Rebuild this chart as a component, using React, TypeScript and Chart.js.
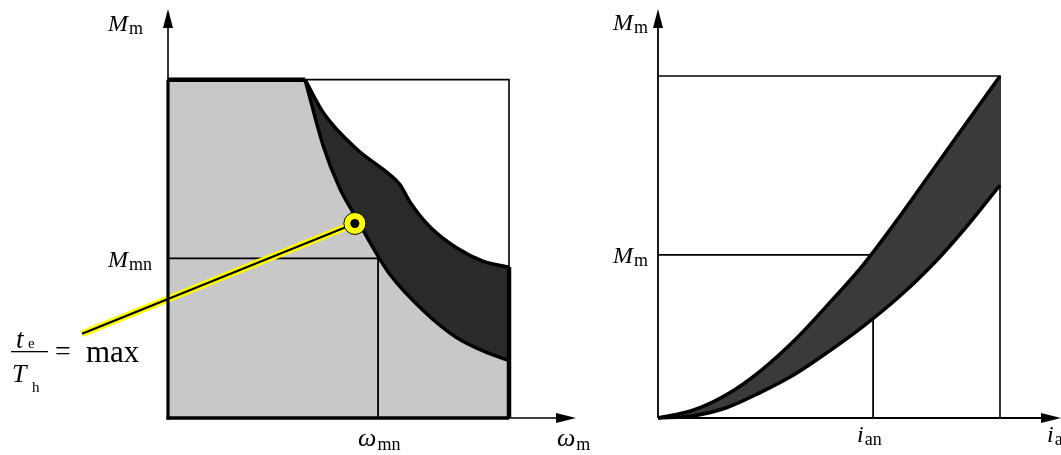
import React, { useEffect, useRef } from "react";
import { Chart, registerables } from "chart.js";
Chart.register(...registerables);

// ---------- Left panel data (normalised ω_m, M_m) ----------
const LEFT_FLAT_X = [0, 0.402];
const LEFT_INNER_X = [0.402, 0.455, 0.504, 0.553, 0.602, 0.651, 0.749, 0.846, 0.944, 1.0];
const LEFT_INNER_Y = [1.0, 0.805, 0.678, 0.59, 0.502, 0.424, 0.317, 0.238, 0.19, 0.17];
const LEFT_OUTER_X = [0.402, 0.455, 0.553, 0.651, 0.68, 0.71, 0.768, 0.846, 0.925, 1.0];
const LEFT_OUTER_Y = [1.0, 0.903, 0.795, 0.719, 0.69, 0.638, 0.565, 0.503, 0.463, 0.446];
const OMEGA_MN = 0.616;
const M_MN = 0.472;
const MARKER = { x: 0.548, y: 0.575 };
const LEADER_END = { x: -0.252, y: 0.249 };

// ---------- Right panel data (normalised i_a, M_m) ----------
const RIGHT_X = [0, 0.1, 0.2, 0.3, 0.4, 0.5, 0.6, 0.7, 0.8, 0.9, 1.0];
const RIGHT_UPPER_Y = [0, 0.022, 0.068, 0.138, 0.228, 0.335, 0.448, 0.58, 0.72, 0.86, 1.0];
const RIGHT_LOWER_Y = [0, 0.006, 0.03, 0.075, 0.128, 0.195, 0.268, 0.35, 0.445, 0.557, 0.681];
const I_AN = 0.629;
const M_M = 0.477;

const pts = (xs: number[], ys: number[]) => xs.map((x, i) => ({ x, y: ys[i] }));

type Geo = { left: number; width: number; height: number; ox: number; oy: number; unit: number; xMax: number; yMax: number };
const LEFT_GEO: Geo = { left: 0, width: 600, height: 455, ox: 168, oy: 418, unit: 341, xMax: 1.2, yMax: 1.2 };
const RIGHT_GEO: Geo = { left: 600, width: 461, height: 455, ox: 58, oy: 418, unit: 342, xMax: (461 - 58) / 342, yMax: 1.2 };

const SERIF = "'Liberation Serif', 'Times New Roman', serif";
const MAIN = `italic 24px ${SERIF}`;
const SUB = `18px ${SERIF}`;
const GRAY = "#c8c8c8";

function txt(ctx: CanvasRenderingContext2D, s: string, x: number, y: number, font: string) {
  ctx.font = font;
  ctx.fillStyle = "#000";
  ctx.textAlign = "left";
  ctx.textBaseline = "alphabetic";
  ctx.fillText(s, x, y);
  return ctx.measureText(s).width;
}
function sub(ctx: CanvasRenderingContext2D, x: number, y: number, m: string, s: string, mf = MAIN, sf = SUB, dy = 3) {
  const w = txt(ctx, m, x, y, mf);
  txt(ctx, s, x + w + 1, y + dy, sf);
}
function line(ctx: CanvasRenderingContext2D, x1: number, y1: number, x2: number, y2: number, w: number) {
  ctx.beginPath();
  ctx.moveTo(x1, y1);
  ctx.lineTo(x2, y2);
  ctx.lineWidth = w;
  ctx.strokeStyle = "#000";
  ctx.stroke();
}
function arrowUp(ctx: CanvasRenderingContext2D, x: number, tip: number) {
  ctx.beginPath();
  ctx.moveTo(x, tip);
  ctx.lineTo(x - 5, tip + 19);
  ctx.lineTo(x + 5, tip + 19);
  ctx.closePath();
  ctx.fillStyle = "#000";
  ctx.fill();
}
function arrowRight(ctx: CanvasRenderingContext2D, tip: number, y: number) {
  ctx.beginPath();
  ctx.moveTo(tip, y);
  ctx.lineTo(tip - 20, y - 5);
  ctx.lineTo(tip - 20, y + 5);
  ctx.closePath();
  ctx.fillStyle = "#000";
  ctx.fill();
}

const lineDs = (data: any[], w: number, extra: any = {}) => ({
  data,
  borderColor: "#000",
  borderWidth: w,
  pointRadius: 0,
  fill: false,
  tension: 0,
  clip: false,
  ...extra,
});

function leftDatasets() {
  // listed bottom -> top
  const ds: any[] = [];
  const outerEnd = LEFT_OUTER_Y[LEFT_OUTER_Y.length - 1];
  ds.push(lineDs([{ x: LEFT_OUTER_X[0], y: 1 }, { x: 1, y: 1 }, { x: 1, y: outerEnd }], 1.6)); // 0
  ds.push(lineDs(pts(LEFT_FLAT_X, [1, 1]), 4.5, { fill: "origin", backgroundColor: GRAY })); // 1
  ds.push(lineDs([{ x: LEFT_FLAT_X[1], y: 0 }, { x: LEFT_FLAT_X[1], y: 0.98 }], 1.5, { borderColor: GRAY })); // 2 seam
  ds.push(lineDs(pts(LEFT_OUTER_X, LEFT_OUTER_Y), 3.5, { fill: 4, backgroundColor: "#2a2a2a", cubicInterpolationMode: "monotone" })); // 3
  ds.push(lineDs(pts(LEFT_INNER_X, LEFT_INNER_Y), 3.5, { fill: "origin", backgroundColor: GRAY, cubicInterpolationMode: "monotone" })); // 4
  ds.push(lineDs([{ x: 1, y: outerEnd }, { x: 1, y: 0 }], 4.5));
  ds.push(lineDs([{ x: 0, y: M_MN }, { x: OMEGA_MN, y: M_MN }, { x: OMEGA_MN, y: 0 }], 1.8));
  ds.push(lineDs([LEADER_END, MARKER], 7, { borderColor: "#ffff00" }));
  ds.push(lineDs([LEADER_END, MARKER], 2.2));
  ds.push({ data: [MARKER], showLine: false, pointRadius: 11, pointBackgroundColor: "#ffff00", pointBorderColor: "#000", pointBorderWidth: 1, clip: false });
  ds.push({ data: [MARKER], showLine: false, pointRadius: 4.5, pointBackgroundColor: "#000", pointBorderColor: "#000", pointBorderWidth: 0, clip: false });
  const n = ds.length;
  return ds.map((d, i) => ({ ...d, order: n - i }));
}

function rightDatasets() {
  const ds: any[] = [];
  ds.push(lineDs([{ x: 0, y: 1 }, { x: 1, y: 1 }, { x: 1, y: 0 }], 1.6));
  ds.push(lineDs([{ x: 0, y: M_M }, { x: I_AN, y: M_M }], 1.8));
  ds.push(lineDs([{ x: I_AN, y: 0 }, { x: I_AN, y: M_M }], 1.8));
  ds.push(lineDs(pts(RIGHT_X, RIGHT_UPPER_Y), 3.5, { fill: 4, backgroundColor: "#3a3a3a", cubicInterpolationMode: "monotone" }));
  ds.push(lineDs(pts(RIGHT_X, RIGHT_LOWER_Y), 3.5, { cubicInterpolationMode: "monotone" }));
  const n = ds.length;
  return ds.map((d, i) => ({ ...d, order: n - i }));
}

const leftOverlay = {
  id: "leftOverlay",
  afterDatasetsDraw(chart: any) {
    const ctx: CanvasRenderingContext2D = chart.ctx;
    const px = (v: number) => chart.scales.x.getPixelForValue(v);
    const py = (v: number) => chart.scales.y.getPixelForValue(v);
    const X0 = px(0), Y0 = py(0), X1 = px(1), Y1 = py(1);
    const tipY = 9, tipX = 576;
    ctx.save();
    line(ctx, X0, Y0, X0, tipY + 10, 1.6);
    line(ctx, X0, Y0 + 1.5, X0, Y1, 3.2);
    line(ctx, X0, Y0, tipX - 10, Y0, 1.6);
    line(ctx, X0 - 1.5, Y0, X1, Y0, 3.4);
    arrowUp(ctx, X0, tipY);
    arrowRight(ctx, tipX, Y0);
    // labels
    sub(ctx, 108, 31, "M", "m");
    sub(ctx, 108, py(M_MN) + 9, "M", "mn");
    sub(ctx, px(OMEGA_MN) - 20, 446, "\u03c9", "mn", `italic 26px ${SERIF}`, SUB, 4);
    sub(ctx, 557, 446, "\u03c9", "m", `italic 26px ${SERIF}`, SUB, 4);
    // t_e / T_h = max
    txt(ctx, "t", 16, 348, `italic 27px ${SERIF}`);
    txt(ctx, "e", 28, 348, `15px ${SERIF}`);
    ctx.fillStyle = "#000";
    ctx.fillRect(11, 351, 37, 1.3);
    txt(ctx, "T", 12, 382, `italic 26px ${SERIF}`);
    txt(ctx, "h", 32, 392, `15px ${SERIF}`);
    txt(ctx, "=", 55, 360, `28px ${SERIF}`);
    txt(ctx, "max", 86, 362, `31px ${SERIF}`);
    ctx.restore();
  },
};

const rightOverlay = {
  id: "rightOverlay",
  afterDatasetsDraw(chart: any) {
    const ctx: CanvasRenderingContext2D = chart.ctx;
    const px = (v: number) => chart.scales.x.getPixelForValue(v);
    const py = (v: number) => chart.scales.y.getPixelForValue(v);
    const X0 = px(0), Y0 = py(0);
    const tipY = 9, tipX = 461;
    ctx.save();
    line(ctx, X0, Y0, X0, tipY + 10, 1.8);
    line(ctx, X0, Y0, tipX - 10, Y0, 1.8);
    arrowUp(ctx, X0, tipY);
    arrowRight(ctx, tipX, Y0);
    sub(ctx, 13, 30, "M", "m");
    sub(ctx, 13, py(M_M) + 8, "M", "m");
    sub(ctx, px(I_AN) - 16, 442, "i", "an", MAIN, SUB, 3);
    sub(ctx, 447, 442, "i", "a", MAIN, SUB, 3);
    ctx.restore();
  },
};

function Panel({ geo, datasets, overlay }: { geo: Geo; datasets: () => any[]; overlay: any }) {
  const ref = useRef<HTMLCanvasElement | null>(null);
  useEffect(() => {
    if (!ref.current) return;
    const right = geo.width - geo.ox - geo.xMax * geo.unit;
    const top = geo.oy - geo.yMax * geo.unit;
    const chart = new Chart(ref.current, {
      type: "line",
      data: { datasets: datasets() },
      options: {
        animation: false,
        responsive: false,
        devicePixelRatio: 1,
        layout: { padding: { left: geo.ox, right, top, bottom: geo.height - geo.oy } },
        plugins: { legend: { display: false }, tooltip: { enabled: false }, title: { display: false } },
        events: [],
        scales: {
          x: { type: "linear", min: 0, max: geo.xMax, display: false },
          y: { type: "linear", min: 0, max: geo.yMax, display: false },
        },
      } as any,
      plugins: [overlay],
    });
    return () => chart.destroy();
  }, []);
  return (
    <canvas
      ref={ref}
      width={geo.width}
      height={geo.height}
      style={{ position: "absolute", left: geo.left, top: 0, width: geo.width, height: geo.height }}
    />
  );
}

export default function App() {
  return (
    <div style={{ position: "fixed", left: 0, top: 0, width: 1061, height: 455, background: "#fff", overflow: "hidden" }}>
      <Panel geo={LEFT_GEO} datasets={leftDatasets} overlay={leftOverlay} />
      <Panel geo={RIGHT_GEO} datasets={rightDatasets} overlay={rightOverlay} />
    </div>
  );
}
